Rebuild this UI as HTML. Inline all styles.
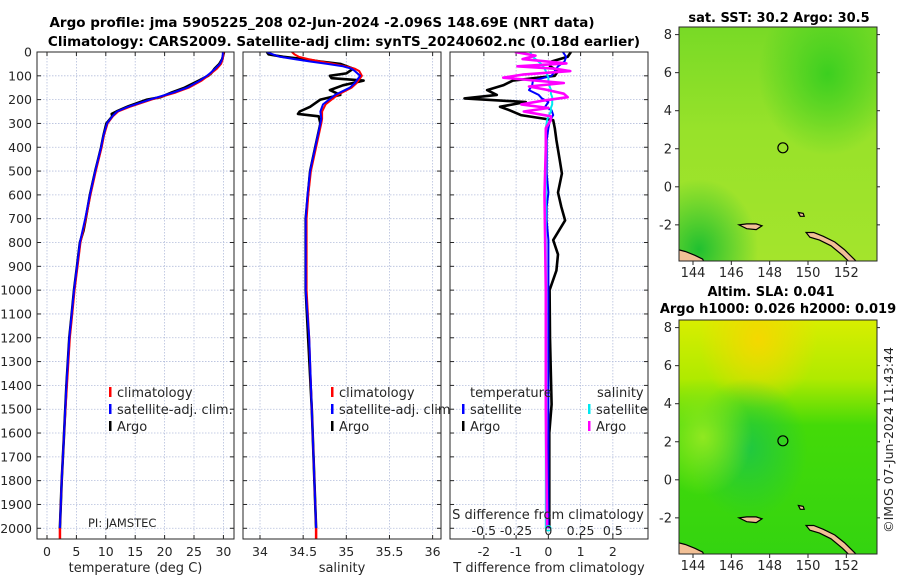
<!DOCTYPE html>
<html><head><meta charset="utf-8">
<style>
html,body{margin:0;padding:0;background:#fff;}
svg{display:block;font-family:"DejaVu Sans","Liberation Sans",sans-serif;}
</style></head>
<body>
<svg id="fig" width="900" height="580" viewBox="0 0 900 580" xmlns="http://www.w3.org/2000/svg">
<defs>
<radialGradient id="sstA" cx="0.75" cy="0.2" r="0.35"><stop offset="0" stop-color="#3ccf20"/><stop offset="1" stop-color="#3ccf20" stop-opacity="0"/></radialGradient>
<radialGradient id="sstB" cx="0.1" cy="0.95" r="0.3"><stop offset="0" stop-color="#20c030"/><stop offset="1" stop-color="#20c030" stop-opacity="0"/></radialGradient>
<linearGradient id="sstBase" x1="0" y1="0" x2="0" y2="1"><stop offset="0" stop-color="#78da26"/><stop offset="0.45" stop-color="#98e22a"/><stop offset="1" stop-color="#a4e42c"/></linearGradient>
<linearGradient id="slaBase" x1="0" y1="0" x2="0" y2="1"><stop offset="0" stop-color="#d8ee00"/><stop offset="0.25" stop-color="#b0ea00"/><stop offset="0.45" stop-color="#44da08"/><stop offset="1" stop-color="#34d410"/></linearGradient>
<radialGradient id="slaY" cx="0.4" cy="0.08" r="0.3"><stop offset="0" stop-color="#f4d800"/><stop offset="1" stop-color="#f4d800" stop-opacity="0"/></radialGradient>
<radialGradient id="slaG" cx="0.35" cy="0.55" r="0.3"><stop offset="0" stop-color="#20c840"/><stop offset="1" stop-color="#20c840" stop-opacity="0"/></radialGradient>
<radialGradient id="slaL" cx="0.12" cy="0.5" r="0.25"><stop offset="0" stop-color="#90e820"/><stop offset="1" stop-color="#90e820" stop-opacity="0"/></radialGradient>
</defs>
<g id="root"></g>
</svg>
<script>
// ---------- data ----------
const depthT = [0,10,30,50,70,90,100,120,150,170,200,230,250,270,300,350,400,500,600,700,800,900,1000,1100,1200,1400,1600,1800,2000];
const tempClim = [30.0,30.0,29.9,29.6,28.9,27.9,27.4,26.3,24.1,21.9,17.8,14.1,12.1,11.2,10.3,9.7,9.3,8.3,7.4,6.6,5.7,5.2,4.7,4.3,3.9,3.4,2.9,2.5,2.2];
const tempSat  = [29.9,29.9,29.8,29.4,28.6,27.7,27.2,26.0,23.8,21.5,17.5,13.8,11.9,11.1,10.2,9.6,9.2,8.2,7.3,6.5,5.6,5.1,4.6,4.2,3.8,3.3,2.9,2.5,2.2];
const depthA = [0,10,30,50,70,90,100,120,150,170,190,200,230,250,260,270,300,350,400,450,500,600,700,750,800,900,1000,1100,1200,1400,1600,1800,2000];
const tempArgo = [30.1,30.0,29.8,29.3,28.5,27.9,27.4,25.8,23.4,21.2,19.3,17.0,13.6,11.8,11.0,11.1,10.1,9.6,9.2,8.7,8.2,7.3,6.6,6.2,5.6,5.1,4.6,4.2,3.8,3.3,2.9,2.5,2.2];
const depthS = [0,10,20,30,40,50,60,70,80,100,130,150,180,220,250,280,300,400,500,600,700,800,1000,1200,1500,2000];
const salClim = [34.37,34.40,34.45,34.56,34.70,34.85,34.99,35.10,35.15,35.18,35.12,35.06,34.90,34.76,34.72,34.72,34.71,34.65,34.59,34.56,34.54,34.54,34.54,34.57,34.60,34.65];
const salSat  = [34.08,34.15,34.23,34.40,34.58,34.78,34.96,35.06,35.10,35.16,35.10,35.04,34.87,34.73,34.70,34.71,34.70,34.64,34.58,34.55,34.53,34.53,34.53,34.57,34.60,34.65];
const depthSA = [0,10,20,30,40,50,70,90,100,110,120,140,160,180,200,230,250,260,270,300,400,500,700,1000,1500,2000];
const salArgo = [34.08,34.10,34.27,34.50,34.70,34.93,35.08,35.00,34.81,34.83,35.20,34.96,34.81,34.93,34.70,34.58,34.46,34.44,34.68,34.70,34.64,34.58,34.53,34.53,34.60,34.65];
const depthD = [0,20,40,60,80,100,120,140,160,180,195,210,230,245,265,286,320,370,450,510,590,650,707,790,850,918,1000,1200,1480,1600,2000];
const dTArgo = [0.7,0.6,0.1,0.05,0.3,0.2,-1.1,-1.4,-1.9,-1.6,-2.6,-0.7,-1.5,-1.2,-0.85,0.15,0.2,0.25,0.35,0.42,0.3,0.4,0.52,0.15,0.3,0.25,0.04,0.05,0.1,0.03,0.03];
const dTSat  = [0.45,0.55,0.5,0.3,0.2,0.1,-0.48,-0.5,-0.6,-0.3,-0.2,0.0,-0.1,0.1,0.15,0.05,0.0,-0.05,-0.05,-0.05,0.0,-0.05,-0.05,0.0,0.0,0.0,0.0,0.0,0.0,0.0,0.0];
const depthDS = [0,15,30,48,60,70,80,95,108,120,130,145,158,175,190,205,220,235,250,270,286,320,400,600,1000,1500,2000];
const dSArgo = [-0.26,-0.1,-0.2,0.14,-0.24,0.05,0.17,-0.2,-0.35,-0.1,0.12,-0.15,-0.02,0.12,0.15,-0.05,-0.21,0.0,-0.19,0.02,0.02,-0.02,-0.02,-0.03,-0.02,-0.02,-0.01];
const dSSat  = [-0.14,-0.13,-0.1,-0.06,-0.04,-0.03,-0.02,-0.01,0.0,0.0,0.01,0.01,0.02,0.02,0.03,0.03,0.03,0.02,0.02,0.0,-0.01,-0.02,-0.02,-0.02,-0.02,-0.02,-0.02];
const tTicks = [0,5,10,15,20,25,30];
const sTicks = [34,34.5,35,35.5,36];
const dTTicks = [-2,-1,0,1,2];
const dSTicks = [-0.5,-0.25,0,0.25,0.5];
const depthTicks = [0,100,200,300,400,500,600,700,800,900,1000,1100,1200,1300,1400,1500,1600,1700,1800,1900,2000];
const lonTicks = [144,146,148,150,152];
const latTicks = [-2,0,2,4,6,8];
const argoLon = 148.69, argoLat = 2.05;

// ---------- helpers ----------
const NS = "http://www.w3.org/2000/svg";
const root = document.getElementById('root');
function mk(tag, attrs, parent){const e=document.createElementNS(NS,tag);for(const k in attrs)e.setAttribute(k,attrs[k]);(parent||root).appendChild(e);return e;}
function txt(s,x,y,attrs,parent){const e=mk('text',Object.assign({x:x,y:y,'font-size':12.5,fill:'#262626'},attrs||{}),parent);e.textContent=s;return e;}

const Y0=52, Y1=539, DMAX=2045;
const yD = d => Y0 + (d/DMAX)*(Y1-Y0);
const panels = [
  {name:'temperature-panel', x0:37, x1:234, v0:-1.7, v1:31.8, ticks:tTicks, label:'temperature (deg C)'},
  {name:'salinity-panel', x0:243, x1:441, v0:33.803, v1:36.097, ticks:sTicks, label:'salinity'},
  {name:'difference-panel', x0:450, x1:648, v0:-3.05, v1:3.09, ticks:dTTicks, label:'T difference from climatology'}
];
panels.forEach(p=>{p.sx = v => p.x0 + (v-p.v0)/(p.v1-p.v0)*(p.x1-p.x0);});

let t1=txt('Argo profile: jma 5905225_208 02-Jun-2024 -2.096S 148.69E (NRT data)',322,27,{'font-weight':'bold','font-size':13.5,'text-anchor':'middle',fill:'#000'});


let t2=txt('Climatology: CARS2009. Satellite-adj clim: synTS_20240602.nc (0.18d earlier)',344,46,{'font-weight':'bold','font-size':13.5,'text-anchor':'middle',fill:'#000'});



function line(p, xs, ds, color, w, name, sx){
  const f = sx || p.sx;
  const pts = xs.map((v,i)=>f(v).toFixed(1)+','+yD(ds[i]).toFixed(1)).join(' ');
  const e = mk('polyline',{points:pts,fill:'none',stroke:color,'stroke-width':w,'stroke-linejoin':'round'},p.g);
  
  
  return e;
}

panels.forEach((p,pi)=>{
  const g = mk('g',{});
  
  
  p.g = g;
  mk('rect',{x:p.x0,y:Y0,width:p.x1-p.x0,height:Y1-Y0,fill:'#fff'},g);
  const clipId='clip'+pi;
  const cp=mk('clipPath',{id:clipId},g); mk('rect',{x:p.x0,y:Y0,width:p.x1-p.x0,height:Y1-Y0},cp);
  p.ticks.forEach(v=>{const x=p.sx(v); mk('line',{x1:x,x2:x,y1:Y0,y2:Y1,stroke:'#b4bedc','stroke-width':0.8,'stroke-dasharray':'1.5,1.5'},g);});
  depthTicks.forEach(d=>{const y=yD(d); mk('line',{x1:p.x0,x2:p.x1,y1:y,y2:y,stroke:'#b4bedc','stroke-width':0.8,'stroke-dasharray':'1.5,1.5'},g);
    mk('line',{x1:p.x0,x2:p.x0+4,y1:y,y2:y,stroke:'#262626','stroke-width':1},g);
    mk('line',{x1:p.x1-4,x2:p.x1,y1:y,y2:y,stroke:'#262626','stroke-width':1},g);
    if(pi===0){const l=txt(String(d),p.x0-5,y+4.5,{'text-anchor':'end'},g);
      
      }
  });
  p.ticks.forEach(v=>{const x=p.sx(v);
    mk('line',{x1:x,x2:x,y1:Y1-4,y2:Y1,stroke:'#262626','stroke-width':1},g);
    mk('line',{x1:x,x2:x,y1:Y0,y2:Y0+4,stroke:'#262626','stroke-width':1},g);
    const l=txt(String(v),x,556,{'text-anchor':'middle'},g);
    
    
  });
  const xl=txt(p.label,(p.x0+p.x1)/2,572,{'text-anchor':'middle','font-size':13},g);
  
  
  p.lines = mk('g',{'clip-path':'url(#'+clipId+')'},g);
});

{const p=panels[0]; const g0=p.g; p.g=p.lines;
 line(p,tempArgo,depthA,'#000',2.6,'argo-temperature-line');
 line(p,tempClim,depthT,'#f00',2,'climatology-temperature-line');
 line(p,tempSat,depthT,'#00f',2,'satellite-temperature-line');
 const r=mk('line',{x1:p.sx(tempClim[tempClim.length-1]),x2:p.sx(tempClim[tempClim.length-1]),y1:yD(2000),y2:Y1,stroke:'#f00','stroke-width':2.5},p.g);
  
 p.g=g0;}
{const p=panels[1]; const g0=p.g; p.g=p.lines;
 line(p,salArgo,depthSA,'#000',2.6,'argo-salinity-line');
 line(p,salClim,depthS,'#f00',2,'climatology-salinity-line');
 line(p,salSat,depthS,'#00f',2,'satellite-salinity-line');
 const r=mk('line',{x1:p.sx(salClim[salClim.length-1]),x2:p.sx(salClim[salClim.length-1]),y1:yD(2000),y2:Y1,stroke:'#f00','stroke-width':2.5},p.g);
  
 p.g=g0;}
{const p=panels[2]; const g0=p.g; p.g=p.lines;
 const sS = v => p.sx(0) + v*4*(p.x1-p.x0)/(p.v1-p.v0);
 line(p,dTArgo,depthD,'#000',2.6,'argo-temperature-difference-line');
 line(p,dTSat,depthD,'#00f',2,'satellite-temperature-difference-line');
 line(p,dSSat,depthDS,'#00e8f0',2,'satellite-salinity-difference-line',sS);
 line(p,dSArgo,depthDS,'#f0f',2.6,'argo-salinity-difference-line',sS);
 const c=mk('circle',{cx:p.sx(0),cy:yD(2000),r:2.5,fill:'none',stroke:'#00e8f0','stroke-width':1.5},p.g);
  
 p.g=g0;
 const st=txt('S difference from climatology',548,519,{'text-anchor':'middle','font-size':13},g0);
  
 dSTicks.forEach(v=>{const l=txt(String(v),sS(v),535,{'text-anchor':'middle'},g0);
    });
}
panels.forEach(p=>{mk('rect',{x:p.x0,y:Y0,width:p.x1-p.x0,height:Y1-Y0,fill:'none',stroke:'#262626','stroke-width':1},p.g);});

function legend(x,y,color,label,parent,name){
  const g=mk('g',{},parent);
  
  
  mk('rect',{x:x,y:y-10,width:2.5,height:10,fill:color},g);
  txt(label,x+8,y,{'font-size':13},g);
}
legend(109,397,'#f00','climatology',panels[0].g,'legend-entry-climatology');
legend(109,414,'#00f','satellite-adj. clim.',panels[0].g,'legend-entry-satellite');
legend(109,431,'#000','Argo',panels[0].g,'legend-entry-argo');
legend(331,397,'#f00','climatology',panels[1].g,'legend-entry-climatology');
legend(331,414,'#00f','satellite-adj. clim.',panels[1].g,'legend-entry-satellite');
legend(331,431,'#000','Argo',panels[1].g,'legend-entry-argo');
{const h=txt('temperature',470,397,{'font-size':13},panels[2].g);  
 const h2=txt('salinity',597,397,{'font-size':13},panels[2].g);  }
legend(462,414,'#00f','satellite',panels[2].g,'legend-entry-temperature-satellite');
legend(462,431,'#000','Argo',panels[2].g,'legend-entry-temperature-argo');
legend(588,414,'#00e8f0','satellite',panels[2].g,'legend-entry-salinity-satellite');
legend(588,431,'#f0f','Argo',panels[2].g,'legend-entry-salinity-argo');
{const pi=txt('PI: JAMSTEC',88,527,{'font-size':11.5},panels[0].g);  }

const MX0=679, MX1=877, LON0=143.27, LON1=153.6, LAT0=-3.9, LAT1=8.4;
function makeMap(top, name, fills, titles){
  const bottom = top+234;
  const g=mk('g',{});
  
  
  const sx = lon => MX0 + (lon-LON0)/(LON1-LON0)*(MX1-MX0);
  const sy = lat => bottom - (lat-LAT0)/(LAT1-LAT0)*(bottom-top);
  const cpid='mc'+top; const cp=mk('clipPath',{id:cpid},g); mk('rect',{x:MX0,y:top,width:MX1-MX0,height:234},cp);
  const inner=mk('g',{'clip-path':'url(#'+cpid+')'},g);
  fills.forEach(f=>mk('rect',{x:MX0,y:top,width:MX1-MX0,height:234,fill:f},inner));
  const isl = [
    [[143.2,-3.3],[143.6,-3.4],[144.1,-3.6],[144.5,-3.8],[144.6,-4.0],[143.2,-4.0]],
    [[146.4,-2.0],[146.8,-1.95],[147.3,-1.95],[147.6,-2.05],[147.3,-2.25],[146.8,-2.2]],
    [[149.9,-2.4],[150.3,-2.4],[150.8,-2.6],[151.4,-2.9],[151.9,-3.3],[152.4,-3.8],[152.6,-4.0],[152.2,-4.0],[151.8,-3.6],[151.2,-3.1],[150.6,-2.8],[150.1,-2.65]],
    [[149.5,-1.35],[149.75,-1.4],[149.8,-1.55],[149.6,-1.55]]
  ];
  isl.forEach(poly=>{const e=mk('polygon',{points:poly.map(q=>sx(q[0]).toFixed(1)+','+sy(q[1]).toFixed(1)).join(' '),fill:'#f2c096',stroke:'#000','stroke-width':1.2},inner);
     });
  const c=mk('circle',{cx:sx(argoLon),cy:sy(argoLat),r:5,fill:'none',stroke:'#000','stroke-width':1.2},g);
  
  
  mk('rect',{x:MX0,y:top,width:MX1-MX0,height:234,fill:'none',stroke:'#262626','stroke-width':1},g);
  lonTicks.forEach(v=>{const x=sx(v); mk('line',{x1:x,x2:x,y1:bottom,y2:bottom+4,stroke:'#262626'},g);
    const l=txt(String(v),x,bottom+16,{'text-anchor':'middle','font-size':13},g);
     });
  latTicks.forEach(v=>{const y=sy(v); mk('line',{x1:MX0-4,x2:MX0,y1:y,y2:y,stroke:'#262626'},g);
    mk('line',{x1:MX1,x2:MX1+3,y1:y,y2:y,stroke:'#262626'},g);
    const l=txt(String(v),MX0-7,y+4.5,{'text-anchor':'end','font-size':13},g);
     });
  titles.forEach(t=>{const e=txt(t[0],t[1],t[2],{'text-anchor':'middle','font-weight':'bold','font-size':13,fill:'#000'},g);
     });
}
makeMap(27,'sst-map',['url(#sstBase)','url(#sstA)','url(#sstB)'],[['sat. SST: 30.2 Argo: 30.5',779,22]]);
makeMap(320,'sla-map',['url(#slaBase)','url(#slaY)','url(#slaG)','url(#slaL)'],[['Altim. SLA: 0.041',771,296],['Argo h1000: 0.026 h2000: 0.019',778,313]]);
{const c=txt('©IMOS 07-Jun-2024 11:43:44',0,0,{'font-size':12.5,'text-anchor':'middle',transform:'translate(893,440) rotate(-90)'});
  }
</script>
</body></html>
